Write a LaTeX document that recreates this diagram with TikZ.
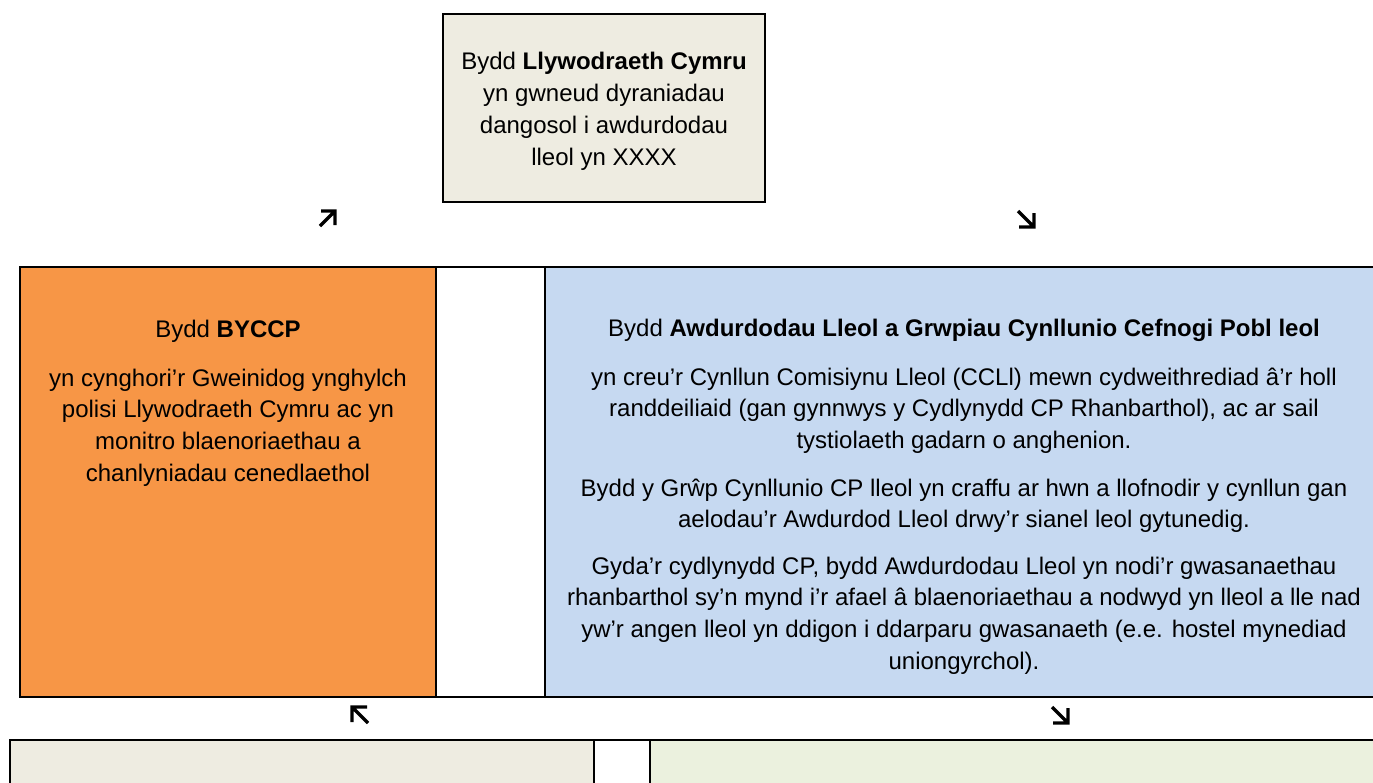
\documentclass[tikz,border=0pt]{standalone}
\usepackage{fontspec}
\setmainfont{Liberation Sans}
\definecolor{beige}{HTML}{EEECE1}
\definecolor{orng}{HTML}{F79646}
\definecolor{blu}{HTML}{C6D9F1}
\definecolor{grn}{HTML}{EBF1DE}
\begin{document}
\begin{tikzpicture}[x=1pt,y=-1pt,
  cell/.style={draw=black, line width=2pt, inner sep=0pt},
  txt/.style={align=center, inner sep=0pt, anchor=north, font=\fontsize{24}{31.6}\selectfont},
  arrline/.style={draw=black, line width=3.3pt, line join=miter}]
\useasboundingbox (0,0) rectangle (1373,782);
\clip (0,0) rectangle (1373,782);
% top box
\node[cell, fill=beige, minimum width=322pt, minimum height=188pt] (gov) at (604,108) {};
\node[txt, font=\fontsize{24}{32}\selectfont] (govtext) at (604,47) {\rule{0pt}{22pt}Bydd \textbf{Llywodraeth Cymru}\\yn gwneud dyraniadau\\dangosol i awdurdodau\\lleol yn XXXX};
% middle row
\node[cell, fill=orng, minimum width=416pt, minimum height=430pt] (byccp) at (228,482) {};
\node[cell, fill=white, minimum width=109pt, minimum height=430pt] (gap1) at (490.5,482) {};
\node[cell, fill=blu, minimum width=855pt, minimum height=430pt] (la) at (972.5,482) {};
\node[txt] (byccptext) at (228,315) {\rule{0pt}{22pt}Bydd \textbf{BYCCP}\\[17.5pt]
yn cynghori’r Gweinidog ynghylch\\polisi Llywodraeth Cymru ac yn\\monitro blaenoriaethau a\\chanlyniadau cenedlaethol};
\node[txt] (latext) at (964,314) {\rule{0pt}{22pt}Bydd \textbf{Awdurdodau Lleol a Grwpiau Cynllunio Cefnogi Pobl leol}\\[17.5pt]
yn creu’r Cynllun Comisiynu Lleol (CCLl) mewn cydweithrediad â’r holl\\randdeiliaid (gan gynnwys y Cydlynydd CP Rhanbarthol), ac ar sail\\tystiolaeth gadarn o anghenion.\\[16pt]
Bydd y Grŵp Cynllunio CP lleol yn craffu ar hwn a llofnodir y cynllun gan\\aelodau’r Awdurdod Lleol drwy’r sianel leol gytunedig.\\[15pt]
Gyda’r cydlynydd CP, bydd Awdurdodau Lleol yn nodi’r gwasanaethau\\rhanbarthol sy’n mynd i’r afael â blaenoriaethau a nodwyd yn lleol a lle nad\\yw’r angen lleol yn ddigon i ddarparu gwasanaeth (e.e. hostel mynediad\\uniongyrchol).};
% bottom row
\node[cell, fill=beige, minimum width=584pt, minimum height=80pt] (bl) at (302,780) {};
\node[cell, fill=white, minimum width=56pt, minimum height=80pt] (gap2) at (622,780) {};
\node[cell, fill=grn, minimum width=750pt, minimum height=80pt] (br) at (1025,780) {};
% arrows (up-right, down-right, up-left, down-right)
\coordinate (a1tip) at (335,211); \coordinate (a1tail) at (320,226);
\coordinate (a1h) at (321,211);   \coordinate (a1v) at (335,225);
\draw[arrline] (a1tail) -- (a1tip) (a1h) -- (a1tip) -- (a1v);
\coordinate (a2tip) at (1034,227); \coordinate (a2tail) at (1018,211);
\coordinate (a2h) at (1019,227);   \coordinate (a2v) at (1034,213);
\draw[arrline] (a2tail) -- (a2tip) (a2h) -- (a2tip) -- (a2v);
\coordinate (a3tip) at (352,707); \coordinate (a3tail) at (368,723);
\coordinate (a3h) at (367,707);   \coordinate (a3v) at (352,722);
\draw[arrline] (a3tail) -- (a3tip) (a3h) -- (a3tip) -- (a3v);
\coordinate (a4tip) at (1068,723); \coordinate (a4tail) at (1052,707);
\coordinate (a4h) at (1053,723);   \coordinate (a4v) at (1068,708);
\draw[arrline] (a4tail) -- (a4tip) (a4h) -- (a4tip) -- (a4v);
\end{tikzpicture}
\end{document}
